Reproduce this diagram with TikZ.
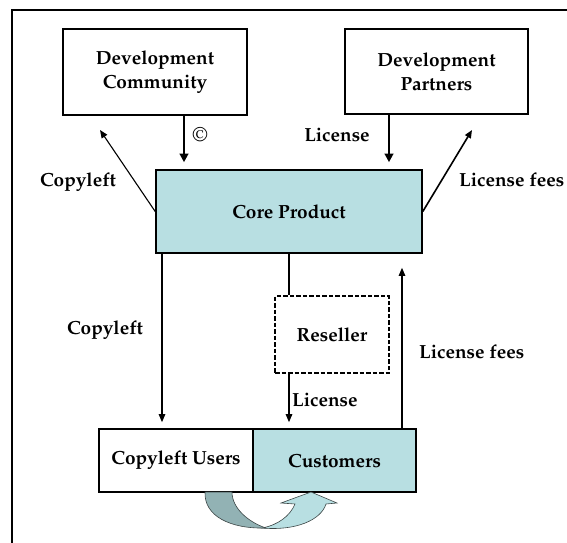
\documentclass[tikz,border=0pt]{standalone}
\usepackage[T1]{fontenc}
\usepackage{mathpazo}
\usetikzlibrary{arrows.meta,calc}
\definecolor{coreteal}{RGB}{184,223,226}
\definecolor{bandshade}{RGB}{146,178,180}
\definecolor{bandedge}{RGB}{60,70,70}
\begin{document}
\begin{tikzpicture}[x=1pt,y=-1pt,
  every node/.style={font=\fontsize{19}{24}\selectfont\bfseries, inner sep=0pt},
  boxnode/.style={draw, line width=1.6pt, align=center},
  tealbox/.style={boxnode, fill=coreteal},
  dashbox/.style={draw, line width=2.4pt, dash pattern=on 4.5pt off 2pt, align=center},
  heavyflow/.style={line width=2.6pt, -{Triangle[length=8.5pt,width=8.5pt]}, shorten >=7pt},
  lightflow/.style={line width=1.1pt, -{Triangle[length=8pt,width=6.5pt]}},
  plainline/.style={line width=1.1pt}]
\clip (0,0) rectangle (567,542);
\useasboundingbox (0,0) rectangle (567,542);

% outer frame (continues past the right and bottom edges)
\draw[line width=2pt] (12,10) rectangle (620,620);

% boxes
\node[boxnode, minimum width=184pt, minimum height=86pt] (dc) at (155,72) {Development\\Community};
\node[boxnode, minimum width=183pt, minimum height=85pt] (dp) at (436.5,71.5) {Development\\Partners};
\node[tealbox, minimum width=266pt, minimum height=83pt] (core) at (289,211.5) {Core Product};
\node[dashbox, minimum width=114pt, minimum height=77pt] (res) at (332,334.5) {Reseller};
\node[boxnode, minimum width=154pt, minimum height=63pt] (cu) at (176,460.5) {Copyleft Users};
\node[tealbox, minimum width=163pt, minimum height=63pt] (cust) at (334.5,460.5) {Customers};

% free ends of the outward arrows
\coordinate (clend) at (100,130);
\coordinate (lfend) at (472,130);

% inputs into the core product
\draw[heavyflow] ([xshift=29pt]dc.south) -- ([xshift=29pt]dc.south |- core.north);
\draw[heavyflow] ([xshift=-47.5pt]dp.south) -- ([xshift=-47.5pt]dp.south |- core.north);

% outputs from the core product
\draw[lightflow] (core.west) -- (clend);
\draw[lightflow, line width=1.6pt] (core.east) -- (lfend);

% down to the users
\draw[lightflow, shorten >=6pt] ([xshift=-14pt]cu.north |- core.south) -- ([xshift=-14pt]cu.north);
\draw[plainline] (core.south) -- (core.south |- res.north);
\draw[lightflow, shorten >=6pt] (core.south |- res.south) -- (core.south |- cust.north);
\draw[lightflow, shorten >=14pt] ([xshift=67.5pt]cust.north) -- ([xshift=67.5pt]cust.north |- core.south);

% labels
\node (lcopy) at (200,134) {\normalfont\fontsize{20}{24}\selectfont\textcopyright};
\node (llic1) at (337,135) {License};
\node (lcl1) at (78,182) {Copyleft};
\node[anchor=west] (lfee1) at (459,180) {License fees};
\node (lcl2) at (105,330) {Copyleft};
\node[anchor=west] (lfee2) at (419,352) {License fees};
\node[anchor=west] (llic2) at (292,400) {License};

% curved conversion arrow under the user boxes
\filldraw[fill=bandshade, draw=bandedge, line width=0.6pt]
  (205,492) .. controls (204,516) and (230,529) .. (266,528)
  .. controls (248,522) and (232,508) .. (232,492) -- cycle;
\filldraw[fill=coreteal, draw=bandedge, line width=0.6pt]
  (262,528) .. controls (296,531) and (321,520) .. (326,504)
  -- (337,503) -- (311,492) -- (281,503) -- (295,504)
  .. controls (290,516) and (278,525) .. (262,528) -- cycle;
\end{tikzpicture}
\end{document}
